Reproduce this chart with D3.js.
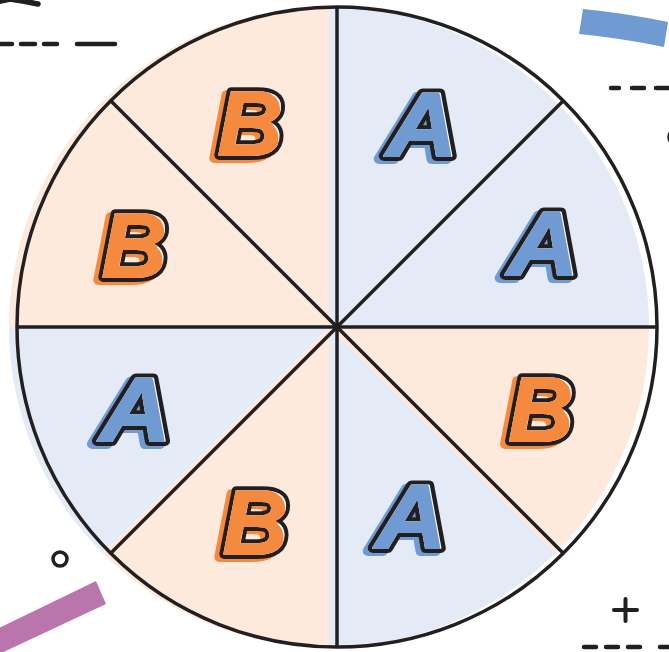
<!DOCTYPE html>
<html>
<head>
<meta charset="utf-8">
<script src="https://cdn.jsdelivr.net/npm/d3@7"></script>
<style>
  html, body { margin: 0; padding: 0; background: #fff; }
  svg { display: block; }
</style>
</head>
<body>
<svg id="chart" width="669" height="652"></svg>
<script>
// Eight equal slices, clockwise from 12 o'clock.
const LABELS = ["A", "A", "B", "A", "B", "A", "B", "B"];
const VALUES = [1, 1, 1, 1, 1, 1, 1, 1];

const INK = "#231f20";
const FILL = { A: "#e4ebf6", B: "#fdeadc" };
const LETTER = { A: "#6f9bd2", B: "#f5893d" };
const STRETCH = { A: 1.1, B: 1 };   // the A glyphs are drawn wider
// hand placement of the letters is a bit loose in the original
const NUDGE = [[1, -1], [4, 0], [2, -1], [-10, -12], [1, -6], [-1, -1], [-2, 2], [-4, -2]];

const width = 669, height = 652;
const cx = 337, cy = 327, R = 320;
const svg = d3.select("#chart");
const defs = svg.append("defs");

const slices = d3.pie().sort(null).value((d) => d.v)(
  LABELS.map((l, i) => ({ label: l, v: VALUES[i] })));
const arc = d3.arc().innerRadius(0).outerRadius(R);
const labelArc = d3.arc().innerRadius(218).outerRadius(218);

// ---------- decorations ----------
const deco = svg.append("g").attr("stroke", INK).attr("stroke-linecap", "round").attr("fill", "none");
deco.append("path").attr("d", "M-4,2 L10,-1 Q24,1 38,4").attr("stroke-width", 5.5);
const dashes = [
  [[0, 12], [21, 35], [44, 57], [77, 115]],          // top-left, y=44
  [[611, 619], [632, 644], [656, 672]],              // right, y=88
  [[584, 596], [606, 618], [628, 640], [660, 672]],  // bottom-right, y=647
];
const dashY = [44, 88, 647];
dashes.forEach((row, i) => row.forEach(([a, b]) =>
  deco.append("line").attr("x1", a).attr("x2", b).attr("y1", dashY[i]).attr("y2", dashY[i])
    .attr("stroke-width", 4.5)));
deco.append("circle").attr("cx", 60).attr("cy", 559).attr("r", 7).attr("stroke-width", 3.5);
deco.append("circle").attr("cx", 677).attr("cy", 137).attr("r", 8).attr("stroke-width", 3.5);
deco.append("line").attr("x1", 614).attr("x2", 637).attr("y1", 610).attr("y2", 610).attr("stroke-width", 4);
deco.append("line").attr("x1", 625.5).attr("x2", 625.5).attr("y1", 599).attr("y2", 621).attr("stroke-width", 4);

svg.append("path").attr("fill", "#6f9bd2")
  .attr("d", "M583,9 Q625,13 668,22 L664,47 Q621,38 579,34 Z");
svg.append("path").attr("fill", "#bb75ad")
  .attr("d", "M-5,630 L96,581 L106,604 L-5,656 Z");

// ---------- pie ----------
// fills are printed slightly off-register (shifted left)
const fills = svg.append("g").attr("transform", `translate(${cx - 8},${cy})`);
fills.selectAll("path").data(slices).join("path")
  .attr("d", arc).attr("fill", (d) => FILL[d.data.label]);

const lines = svg.append("g").attr("transform", `translate(${cx},${cy})`)
  .attr("stroke", INK).attr("stroke-width", 3.5).attr("fill", "none");
lines.append("circle").attr("r", R);
slices.forEach((d) => {
  const a = d.startAngle;
  lines.append("line").attr("x1", 0).attr("y1", 0)
    .attr("x2", R * Math.sin(a)).attr("y2", -R * Math.cos(a));
});

// ---------- letters ----------
// one glyph per slice in <defs>, painted in layers: offset colour shadow,
// black outline, white body, colour body masked to the glyph
const OUTER = 10, INNER = 2;
const place = (d, dx = 0, dy = 0) => {
  const [lx, ly] = labelArc.centroid(d);
  const [nx, ny] = NUDGE[d.index];
  return `translate(${cx + lx + 1 + nx + dx},${cy + ly + ny + dy}) scale(${STRETCH[d.data.label]},1)`;
};
slices.forEach((d, i) => {
  defs.append("text").attr("id", `glyph-${i}`).attr("dy", "0.35em")
    .attr("text-anchor", "middle").attr("stroke-linejoin", "round")
    .style("font-family", "'Liberation Sans', Arial, sans-serif")
    .style("font-weight", 700).style("font-style", "italic").style("font-size", "91px")
    .text(d.data.label);
  defs.append("mask").attr("id", `mask-${i}`).attr("maskUnits", "userSpaceOnUse")
    .attr("x", 0).attr("y", 0).attr("width", width).attr("height", height)
    .append("use").attr("href", `#glyph-${i}`).attr("transform", place(d))
    .attr("fill", "#fff").attr("stroke", "#fff").attr("stroke-width", INNER);
});

const letters = svg.append("g").selectAll("g").data(slices).join("g");
const layer = (sel, fill, sw, shifted) => sel.append("use")
  .attr("href", (d, i) => `#glyph-${i}`)
  .attr("transform", (d) => shifted ? place(d, -5, 2.5) : place(d))
  .attr("fill", fill).attr("stroke", fill).attr("stroke-width", sw);
layer(letters, (d) => LETTER[d.data.label], OUTER, true);
layer(letters, INK, OUTER, false);
layer(letters, "#fff", INNER, false);
layer(letters.append("g").attr("mask", (d, i) => `url(#mask-${i})`),
  (d) => LETTER[d.data.label], OUTER, true);
</script>
</body>
</html>
